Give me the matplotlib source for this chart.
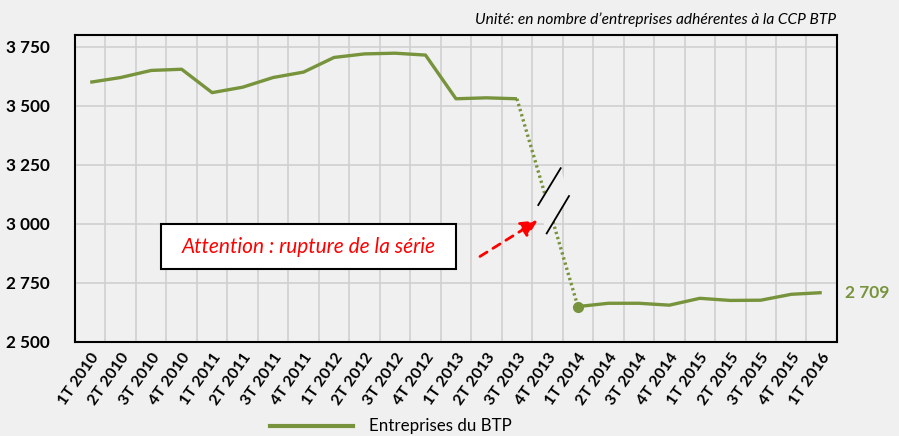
import numpy as np
import matplotlib.pyplot as plt
from matplotlib.patches import Rectangle, Polygon

plt.rcParams['font.family'] = ['Lato', 'DejaVu Sans']

quarters = ['1T 2010', '2T 2010', '3T 2010', '4T 2010',
            '1T 2011', '2T 2011', '3T 2011', '4T 2011',
            '1T 2012', '2T 2012', '3T 2012', '4T 2012',
            '1T 2013', '2T 2013', '3T 2013', '4T 2013',
            '1T 2014', '2T 2014', '3T 2014', '4T 2014',
            '1T 2015', '2T 2015', '3T 2015', '4T 2015',
            '1T 2016']
# old series up to 3T 2013, new series from 1T 2014 (4T 2013 = rupture)
old_vals = [3600, 3620, 3650, 3655, 3556, 3579, 3620, 3643,
            3705, 3720, 3723, 3715, 3530, 3534, 3530]
new_vals = [2650, 2664, 2664, 2656, 2685, 2676, 2677, 2702, 2709]
yticks = [2500, 2750, 3000, 3250, 3500, 3750]

green = '#77933C'
bg = '#f0f0f0'

x = np.arange(len(quarters))
x_old = x[:len(old_vals)]
x_new = x[len(quarters) - len(new_vals):]

fig = plt.figure(figsize=(8.99, 4.36), dpi=100, facecolor=bg)
ax = fig.add_axes([0.0834, 0.2156, 0.8476, 0.7041])
ax.set_facecolor(bg)

ax.plot(x_old, old_vals, color=green, lw=2.4, solid_capstyle='butt', zorder=3)
ax.plot(x_new, new_vals, color=green, lw=2.4, solid_capstyle='butt', zorder=3)
ax.plot([x_old[-1], x_new[0]], [old_vals[-1], new_vals[0]], color=green,
        lw=2.4, ls=(0, (0.7, 0.9)), zorder=3)
ax.plot(x_new[0], new_vals[0], 'o', color=green, ms=7, zorder=4)

# break marks on the dotted link
gap = Polygon([(14.70, 3080), (15.435, 3236), (15.707, 3118), (14.976, 2960)],
              closed=True, facecolor=bg, edgecolor='none', zorder=5)
ax.add_patch(gap)
ax.plot([14.70, 15.435], [3080, 3236], color='black', lw=1.3, zorder=6)
ax.plot([14.976, 15.707], [2960, 3118], color='black', lw=1.3, zorder=6)

# warning box and arrow
ax.add_patch(Rectangle((2.31, 2808), 9.69, 190, facecolor='white',
                       edgecolor='black', lw=1.5, zorder=6))
ax.text(7.16, 2903, 'Attention : rupture de la série', color='red',
        style='italic', fontsize=15, ha='center', va='center', zorder=7)
ax.annotate('', xy=(14.756, 3021), xytext=(12.71, 2856),
            arrowprops=dict(arrowstyle='-|>,head_length=1.0,head_width=0.5',
                            color='red', lw=2, ls=(0, (3, 2.5))), zorder=7)

ax.text(len(quarters) - 0.25, new_vals[-1], '2 709', color=green,
        fontweight='bold', fontsize=12.5, ha='left', va='center')

ax.set_xlim(-0.5, len(quarters) - 0.5)
ax.set_ylim(2500, 3800)
ax.set_xticks(x)
ax.set_xticklabels(quarters, rotation=55, ha='right', rotation_mode='anchor',
                   fontweight='bold', fontsize=11.5)
ax.set_xticks(x[:-1] + 0.5, minor=True)
ax.set_yticks(yticks)
ax.set_yticklabels([f'{v:,}'.replace(',', ' ') for v in yticks],
                   fontweight='bold', fontsize=12.3)
ax.tick_params(axis='both', which='both', length=0)
ax.tick_params(axis='x', pad=6)
ax.tick_params(axis='y', pad=18)
ax.grid(True, axis='y', which='major', color='#d0d0d0', lw=1.2)
ax.grid(True, axis='x', which='minor', color='#d0d0d0', lw=1.2)
for s in ax.spines.values():
    s.set_linewidth(1.5)
    s.set_color('black')

fig.text(0.930, 0.955, 'Unité: en nombre d’entreprises adhérentes à la CCP BTP',
         style='italic', fontsize=11.2, ha='right', va='center')

# legend
fig.lines.append(plt.Line2D([0.300, 0.393], [0.023, 0.023], color=green,
                            lw=3, transform=fig.transFigure))
fig.text(0.411, 0.023, 'Entreprises du BTP', fontsize=12.2, ha='left',
         va='center')

fig.savefig('out.png', dpi=100, facecolor=bg)
